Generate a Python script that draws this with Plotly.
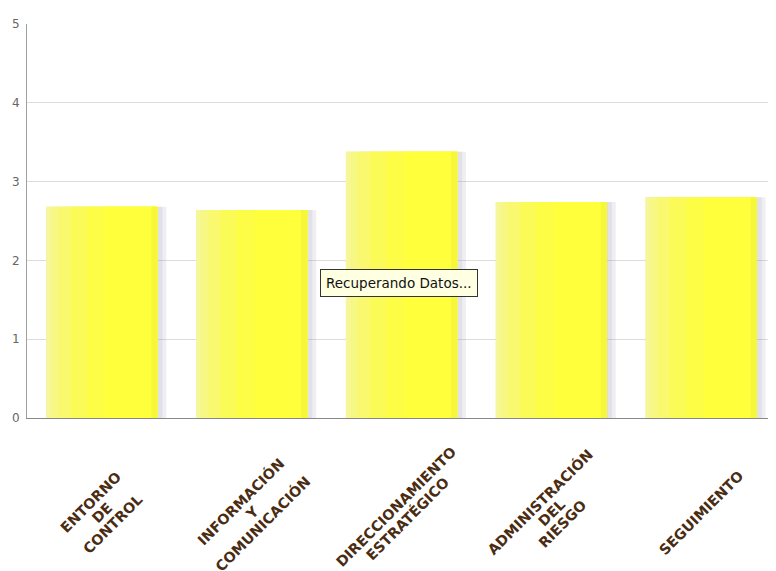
import math
import plotly.graph_objects as go

categories = ["ENTORNO DE CONTROL", "INFORMACIÓN Y COMUNICACIÓN",
              "DIRECCIONAMIENTO ESTRATÉGICO", "ADMINISTRACIÓN DEL RIESGO",
              "SEGUIMIENTO"]
label_lines = [["ENTORNO", "DE", "CONTROL"],
               ["INFORMACIÓN", "Y", "COMUNICACIÓN"],
               ["DIRECCIONAMIENTO", "ESTRATÉGICO"],
               ["ADMINISTRACIÓN", "DEL", "RIESGO"],
               ["SEGUIMIENTO"]]
values = [2.68, 2.64, 3.38, 2.74, 2.80]
y_ticks = [0, 1, 2, 3, 4, 5]

fig = go.Figure()

# soft shadow behind the bars
fig.add_trace(go.Bar(x=categories, y=values, width=0.80, offset=-0.37,
                     marker=dict(color="rgba(140,140,170,0.14)", line=dict(width=0)),
                     hoverinfo="skip", showlegend=False))
fig.add_trace(go.Bar(x=categories, y=values, width=0.775, offset=-0.37,
                     marker=dict(color="rgba(140,140,170,0.14)", line=dict(width=0)),
                     hoverinfo="skip", showlegend=False))
# gradient strips (pale left -> bright yellow right)
strips = [
    (-0.372, 0.744, "#f6f69a"),
    (-0.34, 0.712, "#f7f784"),
    (-0.29, 0.662, "#f9f86e"),
    (-0.21, 0.582, "#fbfb58"),
    (-0.10, 0.472, "#fdfd46"),
    (0.02, 0.352, "#ffff3c"),
    (0.33, 0.042, "#f6f63a"),
]
for off, w, col in strips:
    fig.add_trace(go.Bar(x=categories, y=values, width=w, offset=off,
                         marker=dict(color=col, line=dict(width=0)),
                         hoverinfo="skip", showlegend=False))

angle = -45
line_gap = 15.5
annotations = []
rad = math.radians(-angle)
# perpendicular direction (down-right on screen) to the rotated baseline
px, py = math.sin(rad), math.cos(rad)
for cat, lines in zip(categories, label_lines):
    n = len(lines)
    for i, txt in enumerate(lines):
        d = (i - (n - 1) / 2) * line_gap
        annotations.append(dict(
            text=txt, x=cat, xref="x", y=-0.24, yref="paper",
            xanchor="center", yanchor="middle", showarrow=False,
            textangle=angle, xshift=d * px, yshift=-d * py,
            font=dict(family="DejaVu Sans", size=14.3, color="#4a2c12", weight="bold")))

annotations.append(dict(text="Recuperando Datos...", xref="paper", yref="paper",
                        x=(320 - 27) / 749, y=(418 - 283) / 394, xanchor="left",
                        yanchor="middle", showarrow=False, bgcolor="#ffffe1",
                        bordercolor="#333333", borderwidth=1, borderpad=5,
                        font=dict(family="DejaVu Sans", size=13.5, color="#111111")))

# the page body has an 8px margin, so the figure is sized to end at the window edge
fig.update_layout(
    width=768, height=563,
    margin=dict(l=19, r=0, t=16, b=153),
    paper_bgcolor="white", plot_bgcolor="white",
    barmode="overlay",
    showlegend=False,
    xaxis=dict(showgrid=False, showline=True, linecolor="#888888", linewidth=1,
               ticks="", showticklabels=False, automargin=False),
    yaxis=dict(range=[0, 5], tickvals=y_ticks, showgrid=True, gridcolor="#dcdcdc",
               showline=True, linecolor="#a0a0a0", linewidth=1, zeroline=False,
               ticks="", automargin=False, ticklabelstandoff=4,
               tickfont=dict(family="DejaVu Sans", size=12, color="#666666")),
    annotations=annotations,
)

fig.write_html("out.html")
